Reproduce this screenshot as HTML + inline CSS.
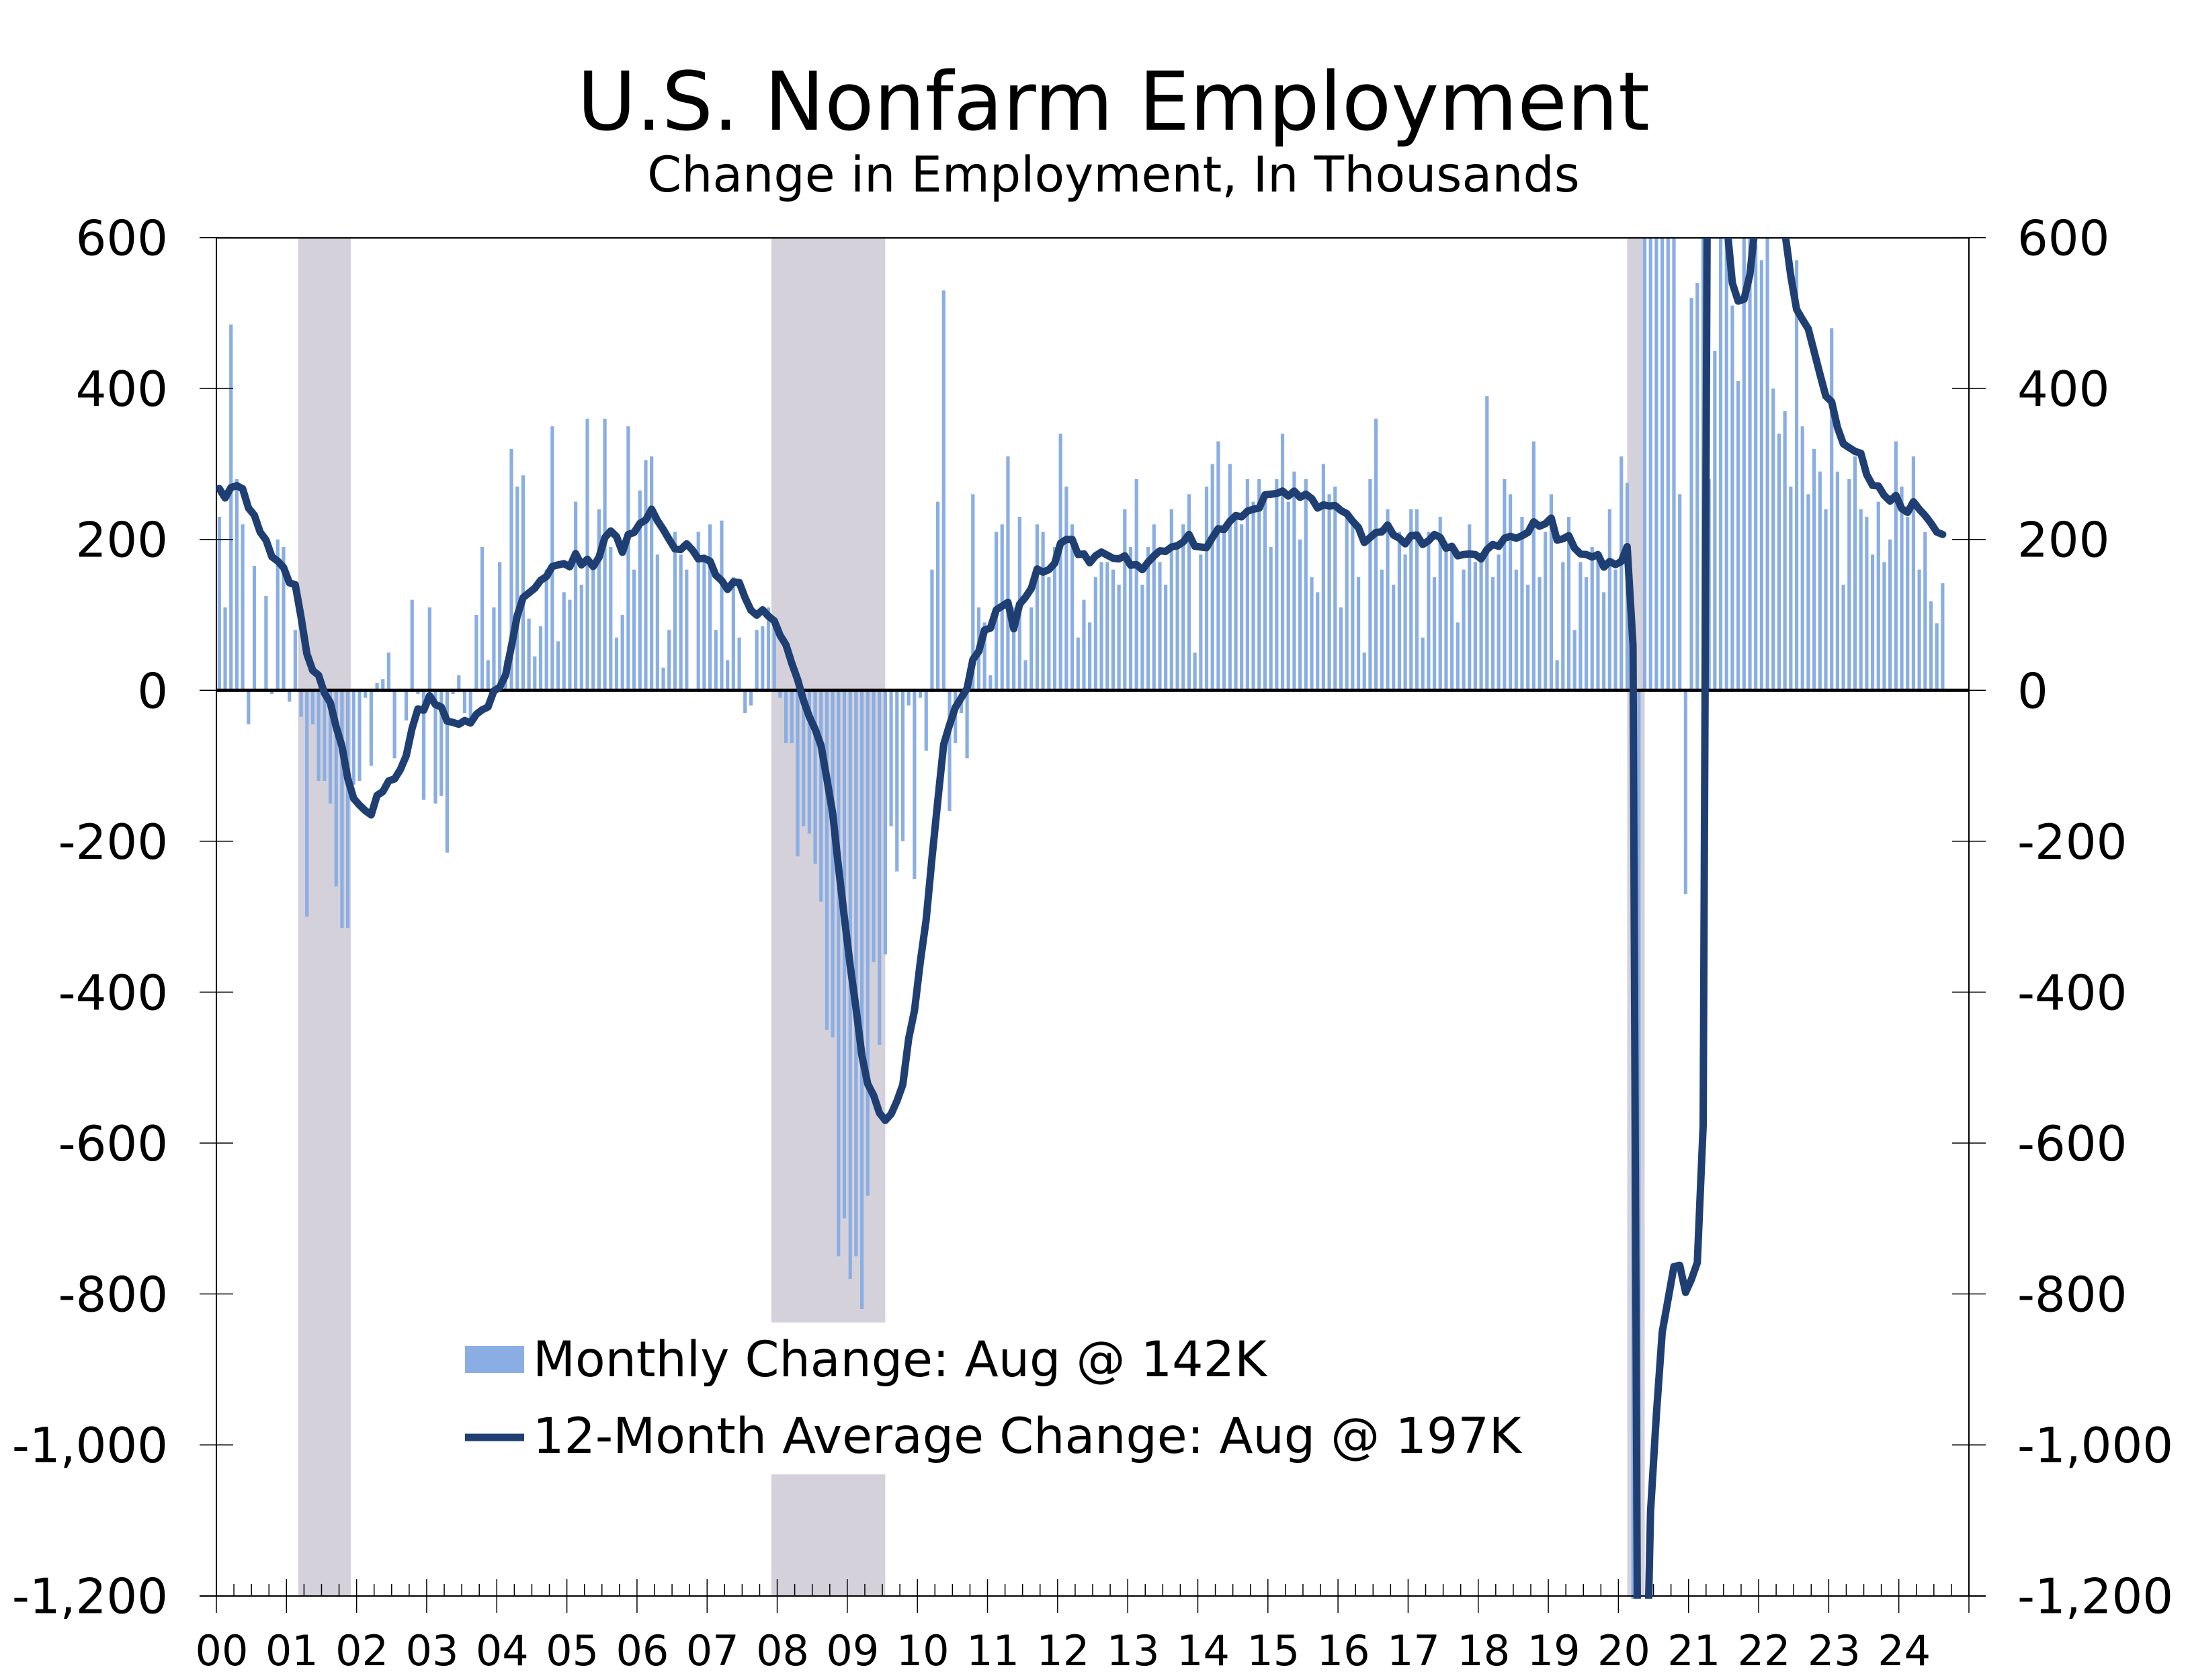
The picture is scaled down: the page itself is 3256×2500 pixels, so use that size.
<!DOCTYPE html>
<html><head><meta charset="utf-8"><style>
html,body{margin:0;padding:0;background:#fff;overflow:hidden;}
svg{display:block;}
text{font-family:"DejaVu Sans","Liberation Sans",sans-serif;fill:#000;}
</style></head><body>
<svg id="c" width="3256" height="2500" viewBox="0 0 3256 2500" xmlns="http://www.w3.org/2000/svg">
<text x="1657" y="193" font-size="120" text-anchor="middle">U.S. Nonfarm Employment</text>
<text x="1657" y="285" font-size="73" text-anchor="middle">Change in Employment, In Thousands</text>
<defs><clipPath id="pc"><rect x="322" y="354" width="2608" height="2025"/></clipPath></defs>
<g id="shade"></g>
<g id="bars" clip-path="url(#pc)"></g>
<g id="axes"></g>
<g id="line" clip-path="url(#pc)"></g>
<g id="legend"></g>
</svg>
<script>
var NS="http://www.w3.org/2000/svg";
function el(p,t,a,txt){var e=document.createElementNS(NS,t);for(var k in a)e.setAttribute(k,a[k]);if(txt!=null)e.textContent=txt;document.getElementById(p).appendChild(e);return e;}
var L=322,R=2930,T=354,B=2375,MW=(R-L)/300;
function X(m){return L+m*MW;}
function Y(v){return 1027.3-v*1.1228;}
var d=[
230,110,485,280,220,-45,165,0,125,-5,200,190,
-15,80,-35,-300,-45,-120,-120,-150,-260,-315,-315,-125,
-120,-10,-100,10,15,50,-90,0,-40,120,-5,-145,
110,-150,-140,-215,-5,20,-30,-40,100,190,40,110,
170,40,320,270,285,95,45,85,160,350,65,130,
120,250,140,360,170,240,360,190,70,100,350,160,
265,305,310,180,30,80,210,180,160,0,210,170,
220,80,225,40,150,70,-30,-20,80,85,110,95,
-10,-70,-70,-220,-180,-190,-230,-280,-450,-460,-750,-700,
-780,-750,-820,-670,-360,-470,-350,-180,-240,-200,-20,-250,
-10,-80,160,250,530,-160,-70,-30,-90,260,110,90,
20,210,220,310,110,230,40,110,220,210,150,190,
340,270,220,70,120,90,150,170,170,160,140,240,
190,280,140,190,220,170,140,240,190,220,260,50,
180,270,300,330,210,300,230,220,280,250,280,260,
190,280,340,250,290,200,280,150,130,300,260,270,
110,230,220,150,50,280,360,160,240,140,210,180,
240,240,70,210,150,230,190,190,90,160,220,170,
170,390,150,180,280,260,160,230,140,330,150,210,
260,40,170,230,80,170,150,190,180,130,240,160,
310,275,-1400,-20500,2700,4500,1700,1500,700,650,260,-270,
520,540,780,280,450,960,1100,510,410,680,650,590,
570,700,400,340,370,270,570,350,260,320,290,240,
480,290,140,280,310,240,230,180,250,170,200,330,
270,230,310,160,210,118,89,142];
el("shade","rect",{x:X(14),y:T,width:X(23)-X(14),height:B-T,fill:"#d5d1da"});
el("shade","rect",{x:X(95),y:T,width:X(114.5)-X(95),height:B-T,fill:"#d5d1da"});
el("shade","rect",{x:X(241.5),y:T,width:X(244.5)-X(241.5),height:B-T,fill:"#d5d1da"});
for(var i=0;i<d.length;i++){var v=d[i],y0=Y(0),y1=Y(v);
el("bars","rect",{x:X(i+0.5)-2.6,y:Math.min(y0,y1),width:5.2,height:Math.abs(y1-y0),fill:"#8aaee3"});}
el("axes","line",{x1:L,y1:T,x2:R,y2:T,stroke:"#000","stroke-width":2});
el("axes","line",{x1:L,y1:T,x2:L,y2:B,stroke:"#000","stroke-width":2});
el("axes","line",{x1:R,y1:T,x2:R,y2:B,stroke:"#000","stroke-width":2});
el("axes","line",{x1:L-25,y1:B,x2:R+25,y2:B,stroke:"#000","stroke-width":2});
el("axes","line",{x1:L,y1:Y(0),x2:R,y2:Y(0),stroke:"#000","stroke-width":5});
var labs=["600","400","200","0","-200","-400","-600","-800","-1,000","-1,200"];
for(var k=0;k<10;k++){var v=600-200*k,y=Y(v);
el("axes","line",{x1:L-25,y1:y,x2:L+25,y2:y,stroke:"#000","stroke-width":1.5});
el("axes","line",{x1:R-25,y1:y,x2:R+25,y2:y,stroke:"#000","stroke-width":1.5});
el("axes","text",{x:250,y:y+26,"font-size":72,"text-anchor":"end"},labs[k]);
el("axes","text",{x:3002,y:y+26,"font-size":72},labs[k]);}
for(var q=0;q<=100;q++){var x=X(q*3);
if(q%4==0){el("axes","line",{x1:x,y1:B-25,x2:x,y2:B+25,stroke:"#000","stroke-width":1.5});}
else el("axes","line",{x1:x,y1:B-18,x2:x,y2:B,stroke:"#000","stroke-width":1.5});}
for(var yr=0;yr<25;yr++){var s=(yr<10?"0":"")+yr;
el("axes","text",{x:X(yr*12)+8,y:2478,"font-size":62,"text-anchor":"middle","font-family":"DejaVu Sans Condensed, DejaVu Sans, sans-serif"},s);}
var pre=[300,260,320,250,270,260,280,270,250,260,270,290];
var full=pre.concat(d),pts=[];
for(var i=0;i<d.length;i++){var s=0;for(var j=i+1;j<=i+12;j++)s+=full[j];var a=s/12;
pts.push(X(i+0.5).toFixed(1)+","+Y(a).toFixed(1));}
el("line","polyline",{points:pts.join(" "),fill:"none",stroke:"#1f3f73","stroke-width":11,"stroke-linejoin":"round","stroke-linecap":"round"});
el("legend","rect",{x:680,y:1968,width:1700,height:226,fill:"#fff"});
el("legend","rect",{x:692,y:2003,width:88,height:40,fill:"#8aaee3"});
el("legend","text",{x:793,y:2048,"font-size":73},"Monthly Change: Aug @ 142K");
el("legend","line",{x1:692,y1:2139,x2:780,y2:2139,stroke:"#1f3f73","stroke-width":11});
el("legend","text",{x:793,y:2162,"font-size":73},"12-Month Average Change: Aug @ 197K");
</script>
</body></html>
